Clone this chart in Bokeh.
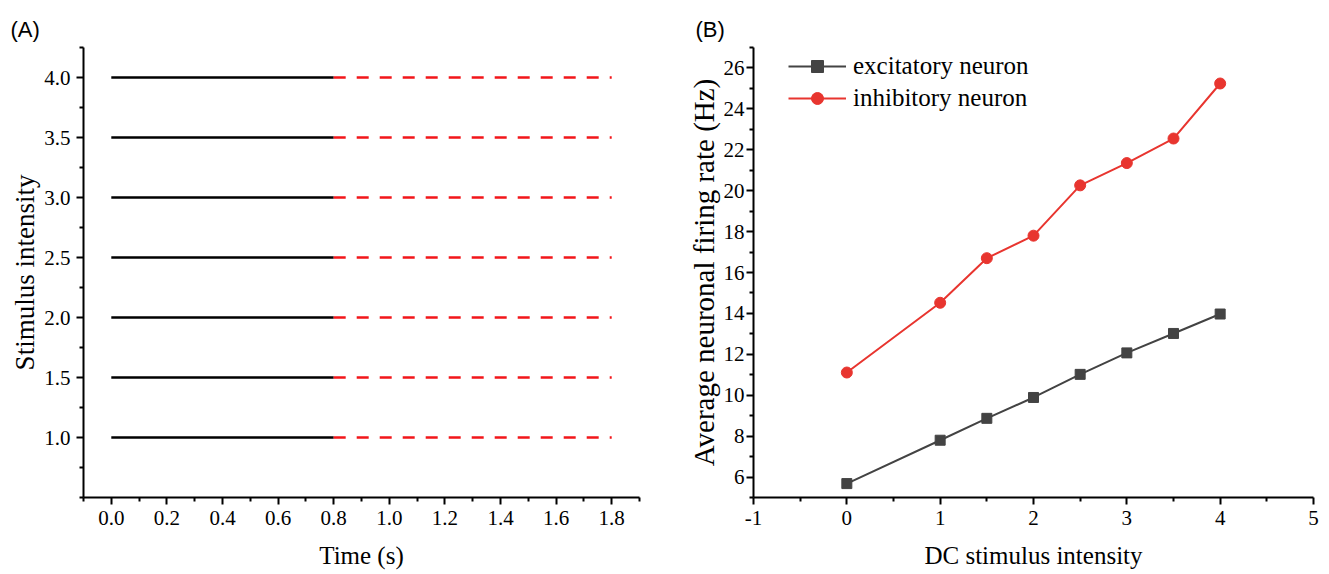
from bokeh.plotting import figure
from bokeh.layouts import row
from bokeh.models import (FixedTicker, PrintfTickFormatter, Range1d,
                          Legend, LegendItem)
from bokeh.embed import file_html
from bokeh.resources import INLINE

# ---- Panel A: stimulation protocol -------------------------------------
stim_levels = [1.0, 1.5, 2.0, 2.5, 3.0, 3.5, 4.0]
stim_on_start = 0.0      # stimulus switched on (s)
stim_on_end = 0.8        # stimulus switched off (s)
stim_off_end = 1.8       # end of recording (s)
time_ticks = [0.0, 0.2, 0.4, 0.6, 0.8, 1.0, 1.2, 1.4, 1.6, 1.8]
time_minor = [-0.1, 0.1, 0.3, 0.5, 0.7, 0.9, 1.1, 1.3, 1.5, 1.7, 1.9]
level_ticks = [1.0, 1.5, 2.0, 2.5, 3.0, 3.5, 4.0]
level_minor = [0.5, 0.75, 1.25, 1.75, 2.25, 2.75, 3.25, 3.75, 4.25]

# ---- Panel B: firing rate vs. DC stimulus ------------------------------
dc_intensity = [0, 1, 1.5, 2, 2.5, 3, 3.5, 4]
exc_rate = [5.68, 7.80, 8.87, 9.89, 11.02, 12.07, 13.02, 13.97]
inh_rate = [11.11, 14.52, 16.70, 17.80, 20.26, 21.35, 22.55, 25.24]
dc_ticks = [-1, 0, 1, 2, 3, 4, 5]
dc_minor = [-0.5, 0.5, 1.5, 2.5, 3.5, 4.5]
rate_ticks = [6, 8, 10, 12, 14, 16, 18, 20, 22, 24, 26]
rate_minor = [5, 7, 9, 11, 13, 15, 17, 19, 21, 23, 25, 27]

SERIF = "Liberation Serif"
SANS = "Liberation Sans"
GRAY = "#434343"
RED_B = "#e8352f"
RED_A = "#f2161a"


def style_axes(p, ylabel_size, tick_standoff_y, ylabel_standoff):
    p.xgrid.visible = False
    p.ygrid.visible = False
    p.outline_line_color = None
    p.background_fill_color = "white"
    p.border_fill_color = "white"
    for ax in (p.xaxis[0], p.yaxis[0]):
        ax.axis_line_width = 2
        ax.axis_line_color = "black"
        ax.major_tick_line_width = 2
        ax.minor_tick_line_width = 2
        ax.major_tick_line_color = "black"
        ax.minor_tick_line_color = "black"
        ax.major_tick_in = 0
        ax.major_tick_out = 7
        ax.minor_tick_in = 0
        ax.minor_tick_out = 4
        ax.major_label_text_font = SERIF
        ax.major_label_text_font_size = "21px"
        ax.major_label_text_color = "black"
        ax.axis_label_text_font = SERIF
        ax.axis_label_text_font_style = "normal"
        ax.axis_label_text_color = "black"
    p.xaxis[0].axis_label_text_font_size = "25px"
    p.xaxis[0].major_label_standoff = 6
    p.xaxis[0].axis_label_standoff = 14
    p.yaxis[0].axis_label_text_font_size = ylabel_size
    p.yaxis[0].major_label_standoff = tick_standoff_y
    p.yaxis[0].axis_label_standoff = ylabel_standoff


def panel_tag(p, text, offset):
    p.title.text = text
    p.title.text_font = SANS
    p.title.text_font_size = "22px"
    p.title.text_font_style = "normal"
    p.title.text_color = "black"
    p.title.align = "left"
    p.title.offset = offset
    p.title.vertical_align = "bottom"
    p.title.standoff = 12


# ---- Panel A -----------------------------------------------------------
pA = figure(width=665, height=574, output_backend="svg", toolbar_location=None,
            x_range=Range1d(-0.1, 1.9), y_range=Range1d(0.5, 4.25),
            min_border_left=83, min_border_right=26,
            min_border_top=47, min_border_bottom=77)
n = len(stim_levels)
pA.segment(x0=[stim_on_start] * n, y0=stim_levels, x1=[stim_on_end] * n,
           y1=stim_levels, line_color="black", line_width=2.5)
pA.segment(x0=[stim_on_end] * n, y0=stim_levels, x1=[stim_off_end] * n,
           y1=stim_levels, line_color=RED_A, line_width=2.5, line_dash="12 11")
pA.xaxis[0].ticker = FixedTicker(ticks=time_ticks, minor_ticks=time_minor)
pA.xaxis[0].formatter = PrintfTickFormatter(format="%.1f")
pA.yaxis[0].ticker = FixedTicker(ticks=level_ticks, minor_ticks=level_minor)
pA.yaxis[0].formatter = PrintfTickFormatter(format="%.1f")
pA.xaxis[0].axis_label = "Time (s)"
pA.yaxis[0].axis_label = "Stimulus intensity"
style_axes(pA, "27px", 6, 1)
panel_tag(pA, "(A)", -73)

# ---- Panel B -----------------------------------------------------------
pB = figure(width=664, height=574, output_backend="svg", toolbar_location=None,
            x_range=Range1d(-1, 5), y_range=Range1d(5, 27),
            min_border_left=88, min_border_right=16,
            min_border_top=47, min_border_bottom=75)
exc_line = pB.line(dc_intensity, exc_rate, line_color=GRAY, line_width=2)
exc_pts = pB.scatter(dc_intensity, exc_rate, marker="square", size=10,
                     fill_color=GRAY, line_color=GRAY)
inh_line = pB.line(dc_intensity, inh_rate, line_color=RED_B, line_width=2)
inh_pts = pB.scatter(dc_intensity, inh_rate, marker="circle", size=11,
                     fill_color=RED_B, line_color=RED_B)
pB.xaxis[0].ticker = FixedTicker(ticks=dc_ticks, minor_ticks=dc_minor)
pB.xaxis[0].formatter = PrintfTickFormatter(format="%d")
pB.yaxis[0].ticker = FixedTicker(ticks=rate_ticks, minor_ticks=rate_minor)
pB.yaxis[0].formatter = PrintfTickFormatter(format="%d")
pB.xaxis[0].axis_label = "DC stimulus intensity"
pB.yaxis[0].axis_label = "Average neuronal firing rate (Hz)"
style_axes(pB, "29px", 2, 1)
panel_tag(pB, "(B)", -58)

legend = Legend(items=[
    LegendItem(label="excitatory neuron", renderers=[exc_line, exc_pts]),
    LegendItem(label="inhibitory neuron", renderers=[inh_line, inh_pts]),
], location=(35, 384))
legend.glyph_width = 58
legend.glyph_height = 30
legend.label_height = 30
legend.label_standoff = 7
legend.spacing = 2
legend.padding = 0
legend.margin = 0
legend.border_line_color = None
legend.background_fill_alpha = 0
legend.label_text_font = SERIF
legend.label_text_font_size = "25px"
legend.label_text_color = "black"
pB.add_layout(legend)

layout = row(pA, pB)
open("out.html", "w").write(file_html(layout, INLINE))
